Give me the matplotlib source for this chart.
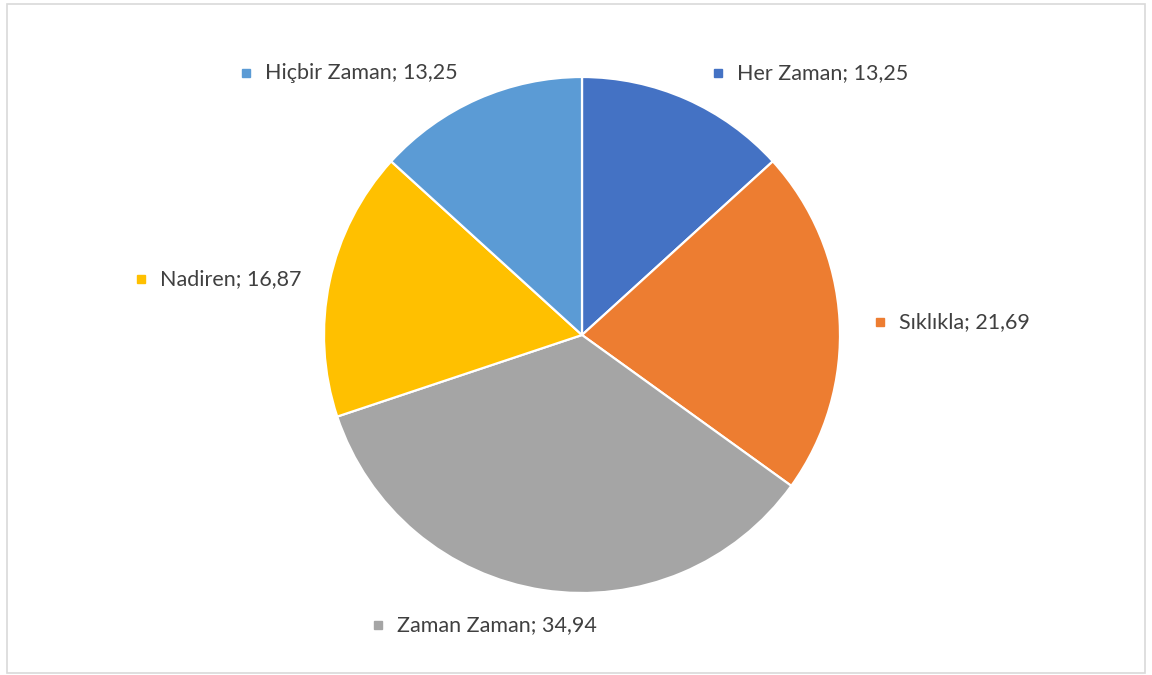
import matplotlib.pyplot as plt
from matplotlib.patches import Rectangle

# data (clockwise from 12 o'clock)
kategoriler = ['Her Zaman', 'Sıklıkla', 'Zaman Zaman', 'Nadiren', 'Hiçbir Zaman']
degerler = [13.25, 21.69, 34.94, 16.87, 13.25]
renkler = ['#4472C4', '#ED7D31', '#A5A5A5', '#FFC000', '#5B9BD5']

# label anchor points in pixel layout (x, y from top)
etiket_yer = [(718, 73), (880, 322), (378, 625), (141, 279), (246, 73)]

W, H = 1152, 675
fig = plt.figure(figsize=(W / 100, H / 100), dpi=100)
ax = fig.add_axes([0, 0, 1, 1])
ax.set_xlim(0, W)
ax.set_ylim(0, H)
ax.set_aspect('equal')
ax.axis('off')

ax.pie(degerler, colors=renkler, startangle=90, counterclock=False,
       center=(582, H - 335), radius=258,
       wedgeprops=dict(edgecolor='white', linewidth=1.6))
ax.set_xlim(0, W)
ax.set_ylim(0, H)

for kat, val, renk, (x, y) in zip(kategoriler, degerler, renkler, etiket_yer):
    ax.plot([x], [H - y], marker='s', markersize=5.5, color=renk, linestyle='none')
    etiket = '%s; %s' % (kat, ('%.2f' % val).replace('.', ','))
    ax.text(x + 19, H - y, etiket, fontsize=15.5, color='#404040',
            family=['Lato', 'DejaVu Sans'], va='center', ha='left')

# chart frame
ax.add_patch(Rectangle((6.5, H - 673), 1138.5, 669, fill=False,
                       edgecolor='#D9D9D9', linewidth=1.2))

fig.savefig('out.png', dpi=100)
